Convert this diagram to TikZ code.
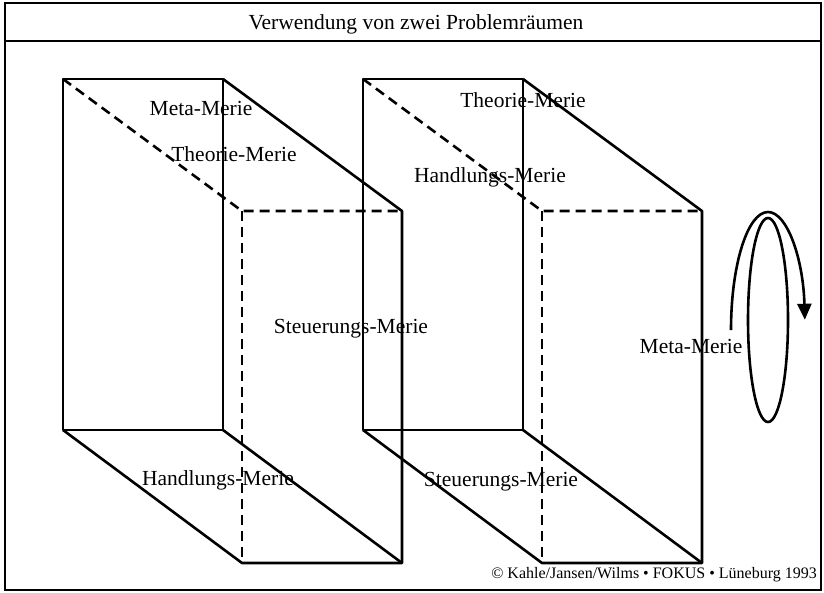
\documentclass[tikz,border=0pt]{standalone}
\usepackage{fontspec}
\setmainfont{Liberation Serif}
\usetikzlibrary{arrows.meta}
\tikzstyle{edge} = [line width=2.6pt, line join=round]
\tikzstyle{hidden} = [edge, dash pattern=on 10pt off 6pt]
\tikzstyle{merie} = [inner sep=0, anchor=base, font=\fontsize{21.5}{24}\selectfont]

\begin{document}
\begin{tikzpicture}[x=1pt, y=-1pt]
      \useasboundingbox (0, 0) rectangle (824, 592);
      \draw[line width=2pt] (5, 3) rectangle (821, 590);
      \draw[line width=2pt] (5, 41) -- (821, 41);
      \node[merie] (title) at (416, 29.5) {Verwendung von zwei Problemräumen};

      % first problem space
      \coordinate (l1) at (63, 79);
      \coordinate (l2) at (223, 79);
      \coordinate (l3) at (223, 430);
      \coordinate (l4) at (63, 430);
      \coordinate (l5) at (242, 211);
      \coordinate (l6) at (402, 211);
      \coordinate (l7) at (402, 563);
      \coordinate (l8) at (242, 563);
      \draw[edge] (l1) -- (l2) -- (l3) -- (l4) -- cycle;
      \draw[edge] (l2) -- (l6) -- (l7) -- (l8) -- (l4);
      \draw[edge] (l3) -- (l7);
      \draw[hidden] (l1) -- (l5) -- (l6);
      \draw[hidden] (l5) -- (l8);

      % second problem space
      \coordinate (r1) at (363, 79);
      \coordinate (r2) at (523, 79);
      \coordinate (r3) at (523, 430);
      \coordinate (r4) at (363, 430);
      \coordinate (r5) at (542, 211);
      \coordinate (r6) at (702, 211);
      \coordinate (r7) at (702, 563);
      \coordinate (r8) at (542, 563);
      \draw[edge] (r1) -- (r2) -- (r3) -- (r4) -- cycle;
      \draw[edge] (r2) -- (r6) -- (r7) -- (r8) -- (r4);
      \draw[edge] (r3) -- (r7);
      \draw[hidden] (r1) -- (r5) -- (r6);
      \draw[hidden] (r5) -- (r8);

      \node[merie] (meta1) at (201, 115) {Meta-Merie};
      \node[merie] (theorie1) at (234, 161) {Theorie-Merie};
      \node[merie] (handlung1) at (218, 485) {Handlungs-Merie};
      \node[merie] (steuerung1) at (351, 333) {Steuerungs-Merie};
      \node[merie] (theorie2) at (523, 107) {Theorie-Merie};
      \node[merie] (handlung2) at (490, 182) {Handlungs-Merie};
      \node[merie] (steuerung2) at (501, 486) {Steuerungs-Merie};
      \node[merie] (meta2) at (691, 353) {Meta-Merie};

      % loop
      \coordinate (loopstart) at (731, 330);
      \draw[edge] (768, 320) ellipse [x radius=20pt, y radius=102pt];
      \draw[edge, -{Triangle[width=14pt, length=16pt]}] (loopstart) arc [start angle=180, end angle=5, x radius=37pt, y radius=118pt];

      \node[inner sep=0, anchor=base east, font=\fontsize{16}{18}\selectfont] (credit) at (817, 578) {© Kahle/Jansen/Wilms • FOKUS • Lüneburg 1993};
\end{tikzpicture}
\end{document}
